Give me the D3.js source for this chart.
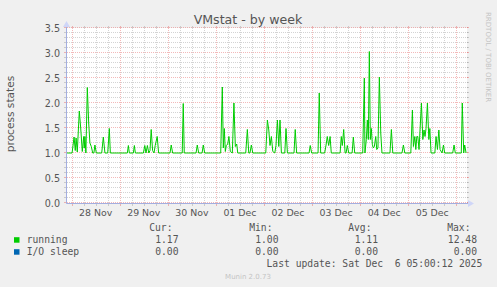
<!DOCTYPE html>
<html>
<head>
<meta charset="utf-8">
<script src="https://cdn.jsdelivr.net/npm/d3@7"></script>
<style>
body { margin: 0; background: #f0f0f0; }
svg text { font-family: "DejaVu Sans", sans-serif; }
svg text.mono { font-family: "DejaVu Sans Mono", monospace; white-space: pre; }
</style>
</head>
<body>
<svg id="chart" width="497" height="287"></svg>
<script>
// time window of the week graph (UTC)
var startTime = new Date(Date.UTC(2025, 10, 27, 21, 40));
var endTime = new Date(Date.UTC(2025, 11, 6, 5, 0, 12));
var baseTime = Date.UTC(2025, 10, 28); // hours in the series count from here

// running processes: [hours since 28 Nov 00:00, value]
var running = [
  [-2.3,1],[0.2,1],[1.2,1.32],[1.8,1.05],[2.2,1.3],[2.8,1.02],[3.8,1.84],[4.5,1.5],[5.3,1.03],
  [6.0,1.33],[6.3,1.1],[6.6,1.33],[7.1,1],[7.8,2.31],[8.5,1.6],[9.1,1.2],[9.8,1.13],[10.5,1],
  [11.1,1],[11.6,1.16],[12.3,1],[15.0,1],[15.8,1.32],[16.6,1],[18.0,1],[18.8,1.49],[19.3,1],
  [27.8,1],[28.3,1.15],[28.8,1],[30.8,1],[31.3,1.15],[31.8,1],[35.8,1],[36.5,1.15],[37.1,1],
  [37.8,1.15],[38.5,1],[39.1,1.05],[39.7,1.47],[40.4,1.05],[41.1,1],[41.7,1.15],[42.7,1.33],[43.4,1],
  [49.1,1],[49.7,1.16],[50.4,1],[55.2,1],[55.7,1.99],[56.2,1],[62.1,1],[62.7,1.16],[63.4,1],
  [65.1,1],[65.7,1.16],[66.4,1],[74.4,1],[75.2,2.32],[75.7,1.1],[76.2,1.49],[76.7,1.03],[77.2,1.15],
  [77.9,1.18],[78.5,1.33],[79.2,1.03],[80.2,1],[81.0,2.0],[81.7,1.13],[82.4,1.18],[82.9,1],
  [86.9,1],[87.7,1.47],[88.4,1],[89.0,1],[89.7,1.16],[90.4,1],[96.9,1],[97.7,1.66],[98.4,1.46],
  [99.0,1.15],[99.7,1.33],[100.4,1.03],[101.4,1],[102.0,1.15],[102.7,1.66],[103.4,1.13],[104.0,1.66],
  [104.7,1],[106.4,1],[107.0,1.49],[107.7,1],[111.0,1],[111.6,1.47],[112.3,1],[118.5,1],[119.1,1.15],
  [119.8,1],[123.0,1],[123.6,2.2],[124.3,1],[126.3,1],[127.0,1.16],[127.6,1.33],[128.3,1.15],
  [129.0,1.33],[129.6,1],[134.0,1],[134.6,1.33],[135.1,1.15],[135.8,1.47],[136.5,1],[137.0,1],
  [137.6,1.15],[138.3,1],[140.0,1],[140.6,1.32],[141.3,1],[145.3,1],[146.1,2.5],[146.4,1],
  [147.1,1.27],[147.6,1.66],[148.1,1.27],[148.6,3.03],[149.1,1.27],[149.6,1.49],[150.1,1.17],
  [150.6,1.1],[151.1,1.13],[151.8,1.33],[152.3,1.07],[152.9,1.1],[153.6,2.52],[154.3,1.4],[154.9,1],
  [158.9,1],[159.6,1.47],[160.3,1],[164.9,1],[165.6,1.16],[166.3,1],[169.3,1],[170.1,1.86],
  [170.6,1.13],[171.3,1.33],[171.8,1.07],[172.3,1.33],[172.8,1.33],[173.4,1.07],[173.9,1.46],
  [174.6,2.0],[175.3,1.27],[175.9,1.46],[176.4,1.33],[176.9,1.49],[177.6,2.0],[178.3,1.27],
  [178.8,1.49],[179.4,1],[181.3,1],[181.9,1.33],[182.6,1.07],[183.3,1.46],[183.9,1.07],[184.9,1],
  [185.6,1.16],[186.2,1],[190.2,1],[190.9,1.16],[191.5,1],[194.5,1],[195.0,2.0],[195.7,1],
  [196.2,1.16],[196.9,1]
];

// legend table
var legendNames = ["running", "I/O sleep"];
var legendColors = ["#00cc00", "#0066b3"];
var legendHeads = ["Cur:", "Min:", "Avg:", "Max:"];
var curValues = ["1.17", "0.00"];
var minValues = ["1.00", "0.00"];
var avgValues = ["1.11", "0.00"];
var maxValues = ["12.48", "0.00"];
var lastUpdate = "Last update: Sat Dec  6 05:00:12 2025";

var yMax = 3.5;
var plotL = 67, plotR = 466.3, plotT = 28, plotB = 203;

var svg = d3.select("#chart");
svg.append("rect").attr("width", 497).attr("height", 287).attr("fill", "#f0f0f0");

var x = d3.scaleUtc().domain([startTime, endTime]).range([plotL, plotR]);
var y = d3.scaleLinear().domain([0, yMax]).range([plotB, plotT]);

function hourToDate(h) { return new Date(baseTime + h * 3600000); }
function px(v) { return Math.round(v) + 0.5; }

// canvas
svg.append("rect")
    .attr("x", plotL).attr("y", plotT)
    .attr("width", 400).attr("height", plotB - plotT)
    .attr("fill", "#ffffff");

var grid = svg.append("g").attr("shape-rendering", "crispEdges");
var minorCol = "rgba(140,140,140,0.38)";
var majorCol = "rgba(225,80,80,0.4)";

// horizontal grid
var majorY = y.ticks(7);
var minorY = y.ticks(35).filter(function(v) {
    return Math.abs(v * 2 - Math.round(v * 2)) > 1e-6;
});
function hLines(vals, col) {
    vals.forEach(function(v) {
        var yy = px(y(v)) - 1;
        grid.append("line").attr("x1", plotL).attr("x2", plotL + 401)
            .attr("y1", yy).attr("y2", yy)
            .attr("stroke", col).attr("stroke-dasharray", "1,1");
        grid.append("line").attr("x1", plotL - 3).attr("x2", plotL)
            .attr("y1", yy).attr("y2", yy).attr("stroke", col);
        grid.append("line").attr("x1", plotL + 400).attr("x2", plotL + 402)
            .attr("y1", yy).attr("y2", yy).attr("stroke", col);
    });
}
hLines(minorY, minorCol);
hLines(majorY, majorCol);

// vertical grid
var dayTicks = x.ticks(d3.utcDay.every(1));
var sixTicks = x.ticks(d3.utcHour.every(6)).filter(function(d) { return d.getUTCHours() != 0; });
function vLines(vals, col) {
    vals.forEach(function(d) {
        var xx = px(x(d));
        grid.append("line").attr("x1", xx).attr("x2", xx)
            .attr("y1", plotT).attr("y2", plotB)
            .attr("stroke", col).attr("stroke-dasharray", "1,1");
        grid.append("line").attr("x1", xx).attr("x2", xx)
            .attr("y1", plotB).attr("y2", plotB + 3).attr("stroke", col);
        grid.append("line").attr("x1", xx).attr("x2", xx)
            .attr("y1", plotT - 2).attr("y2", plotT).attr("stroke", col);
    });
}
vLines(sixTicks, minorCol);
vLines(dayTicks, majorCol);

// data line
var line = d3.line()
    .x(function(d) { return x(hourToDate(d[0])); })
    .y(function(d) { return y(d[1]); });
svg.append("path")
    .datum(running)
    .attr("d", line)
    .attr("fill", "none")
    .attr("stroke", "#00cc00")
    .attr("stroke-width", 1);

// axes with arrows
var axisCol = "#a3aee0";
svg.append("line").attr("x1", plotL - 0.5).attr("x2", plotL + 402).attr("y1", plotB + 0.5).attr("y2", plotB + 0.5)
    .attr("stroke", axisCol);
svg.append("line").attr("x1", plotL - 0.5).attr("x2", plotL - 0.5).attr("y1", plotB + 0.5).attr("y2", plotT - 2)
    .attr("stroke", axisCol);
svg.append("path").attr("d", "M468,200L474,203.5L468,207Z").attr("fill", "#cfd6f8");
svg.append("path").attr("d", "M63,27L66.5,21L70,27Z").attr("fill", "#cfd6f8");

// tick labels
var txtCol = "#555";
svg.append("g").selectAll("text")
    .data(majorY)
    .enter().append("text")
    .attr("x", 60).attr("y", function(d) { return y(d) + 3.5; })
    .attr("text-anchor", "end")
    .attr("font-size", "9.6px")
    .attr("fill", txtCol)
    .text(function(d) { return d.toFixed(1); });

var fmt = d3.utcFormat("%d %b");
svg.append("g").selectAll("text")
    .data(dayTicks.filter(function(d) { return x(d3.utcHour.offset(d, 12)) < plotR; }))
    .enter().append("text")
    .attr("x", function(d) { return x(d3.utcHour.offset(d, 12)); })
    .attr("y", 216)
    .attr("text-anchor", "middle")
    .attr("font-size", "9.4px")
    .attr("fill", txtCol)
    .text(fmt);

// title and axis label
svg.append("text").attr("x", 248).attr("y", 23.5).attr("text-anchor", "middle")
    .attr("font-size", "12.6px").attr("fill", txtCol).text("VMstat - by week");
svg.append("text").attr("transform", "translate(13.5,114) rotate(-90)")
    .attr("text-anchor", "middle").attr("font-size", "10.6px").attr("fill", txtCol)
    .text("process states");

// legend
var colEnds = [172.5, 272.5, 371.5, 470.5];
var valEnds = [178.5, 278.5, 378, 477];
var lg = svg.append("g");
legendHeads.forEach(function(h, i) {
    lg.append("text").attr("class", "mono").attr("x", colEnds[i]).attr("y", 230.7)
        .attr("text-anchor", "end").attr("font-size", "9.7px").attr("fill", txtCol).text(h);
});
var cols = [curValues, minValues, avgValues, maxValues];
legendNames.forEach(function(name, r) {
    var by = 242.7 + r * 12;
    lg.append("rect").attr("x", 14).attr("y", by - 5.5).attr("width", 5.5).attr("height", 5.5)
        .attr("fill", legendColors[r]);
    lg.append("text").attr("class", "mono").attr("x", 26.7).attr("y", by)
        .attr("font-size", "9.7px").attr("fill", txtCol).text(name);
    cols.forEach(function(c, i) {
        lg.append("text").attr("class", "mono").attr("x", valEnds[i]).attr("y", by)
            .attr("text-anchor", "end").attr("font-size", "9.7px").attr("fill", txtCol).text(c[r]);
    });
});
lg.append("text").attr("class", "mono").attr("x", 482.3).attr("y", 266.7)
    .attr("text-anchor", "end").attr("font-size", "9.7px").attr("fill", txtCol).text(lastUpdate);

// watermarks
svg.append("text").attr("x", 248).attr("y", 279).attr("text-anchor", "middle")
    .attr("font-size", "7px").attr("fill", "#c4c4c4").text("Munin 2.0.73");
svg.append("text").attr("transform", "translate(486,12) rotate(90)")
    .attr("font-size", "7px").attr("fill", "#c4c4c4").text("RRDTOOL / TOBI OETIKER");
</script>
</body>
</html>
